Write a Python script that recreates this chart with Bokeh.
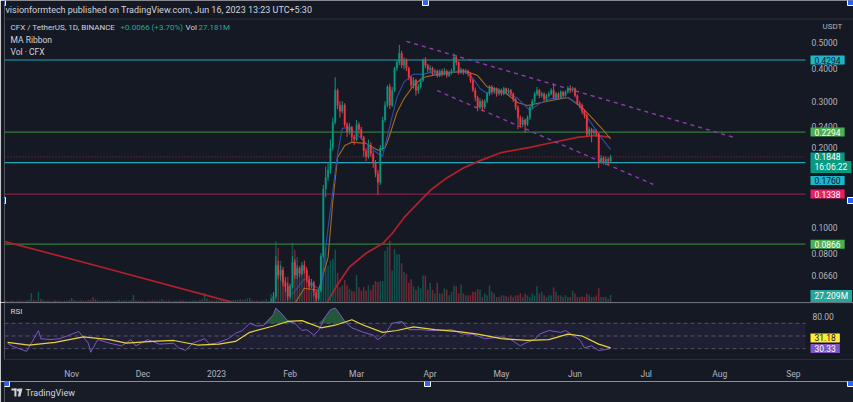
import numpy as np
import pandas as pd
from bokeh.plotting import figure
from bokeh.layouts import column
from bokeh.models import (ColumnDataSource, Range1d, FixedTicker, Label, BoxAnnotation,
                          CustomJSTickFormatter, LinearScale)
from bokeh.core.properties import value
from bokeh.embed import file_html
from bokeh.resources import INLINE

# ---------------- data ----------------
# daily volume (millions) before the visible candles, Oct 2 2022 .. Jan 14 2023
pre_start = "2022-10-02"
pre_volume = [6, 5, 7, 5, 6, 8, 5, 6, 7, 6,
              5, 8, 9, 35, 10, 7, 39, 12, 8, 6,
              7, 5, 6, 8, 7, 6, 5, 7, 6, 8,
              16, 9, 7, 6, 8, 7, 6, 9, 10, 20,
              12, 8, 6, 7, 6, 8, 7, 5, 6, 7,
              9, 6, 7, 8, 6, 9, 27, 8, 6, 7,
              6, 5, 7, 6, 8, 7, 6, 7, 12, 7,
              6, 8, 5, 6, 7, 6, 8, 7, 6, 5,
              6, 7, 8, 6, 9, 12, 35, 15, 8, 7,
              6, 9, 7, 8, 10, 8, 9, 7, 8, 10,
              9, 12, 10, 11, 15]
pre_volume_up = [0, 1, 0, 1, 1, 0, 0, 1, 0, 1,
                 1, 0, 1, 1, 0, 0, 1, 0, 1, 0,
                 0, 1, 1, 0, 1, 0, 0, 1, 1, 0,
                 1, 0, 1, 0, 0, 1, 1, 0, 1, 0,
                 0, 1, 0, 1, 1, 0, 1, 0, 0, 1,
                 1, 0, 1, 1, 0, 1, 1, 0, 1, 0,
                 0, 1, 1, 0, 0, 1, 0, 1, 1, 0,
                 1, 0, 1, 0, 1, 1, 0, 0, 1, 0,
                 0, 1, 1, 0, 1, 0, 1, 1, 0, 0,
                 1, 0, 1, 1, 0, 1, 0, 1, 1, 0,
                 1, 0, 1, 1, 1]

# daily candles CFX/USDT, Jan 15 2023 .. Jun 16 2023
candle_start = "2023-01-15"
first_open = 0.036
closes = [0.040, 0.039, 0.042, 0.041, 0.045, 0.047, 0.048, 0.050, 0.049, 0.052,
          0.055, 0.072, 0.066, 0.069, 0.062, 0.060, 0.055, 0.060, 0.074, 0.066,
          0.070, 0.067, 0.072, 0.069, 0.064, 0.060, 0.062, 0.057, 0.054, 0.058,
          0.078, 0.140, 0.155, 0.165, 0.200, 0.250, 0.330, 0.290, 0.275, 0.290,
          0.245, 0.230, 0.240, 0.220, 0.215, 0.245, 0.235, 0.220, 0.195, 0.185,
          0.205, 0.190, 0.175, 0.160, 0.148, 0.200, 0.255, 0.290, 0.340, 0.290,
          0.330, 0.400, 0.420, 0.455, 0.410, 0.430, 0.400, 0.370, 0.345, 0.360,
          0.330, 0.340, 0.360, 0.430, 0.410, 0.395, 0.400, 0.385, 0.390, 0.375,
          0.390, 0.380, 0.390, 0.375, 0.385, 0.390, 0.440, 0.420, 0.385, 0.395,
          0.385, 0.390, 0.380, 0.360, 0.330, 0.310, 0.285, 0.300, 0.285, 0.300,
          0.320, 0.340, 0.325, 0.335, 0.320, 0.330, 0.320, 0.335, 0.325, 0.330,
          0.320, 0.305, 0.285, 0.260, 0.245, 0.255, 0.245, 0.260, 0.285, 0.300,
          0.320, 0.330, 0.315, 0.320, 0.305, 0.315, 0.320, 0.330, 0.310, 0.320,
          0.310, 0.325, 0.315, 0.325, 0.335, 0.330, 0.335, 0.315, 0.295, 0.290,
          0.275, 0.265, 0.225, 0.235, 0.228, 0.232, 0.226, 0.178, 0.183, 0.176,
          0.181, 0.1782, 0.1848]
highs = [0.041, 0.042, 0.043, 0.044, 0.046, 0.048, 0.050, 0.052, 0.051, 0.054,
         0.057, 0.078, 0.075, 0.072, 0.071, 0.065, 0.062, 0.061, 0.078, 0.076,
         0.072, 0.071, 0.074, 0.075, 0.071, 0.066, 0.064, 0.063, 0.058, 0.059,
         0.080, 0.145, 0.170, 0.175, 0.215, 0.260, 0.370, 0.335, 0.300, 0.300,
         0.295, 0.250, 0.248, 0.242, 0.225, 0.255, 0.250, 0.240, 0.222, 0.200,
         0.215, 0.210, 0.195, 0.180, 0.165, 0.205, 0.262, 0.300, 0.345, 0.350,
         0.340, 0.405, 0.430, 0.490, 0.465, 0.440, 0.435, 0.405, 0.375, 0.370,
         0.365, 0.350, 0.365, 0.435, 0.440, 0.415, 0.410, 0.405, 0.398, 0.395,
         0.395, 0.398, 0.400, 0.395, 0.392, 0.398, 0.455, 0.448, 0.425, 0.402,
         0.398, 0.398, 0.395, 0.385, 0.365, 0.338, 0.315, 0.308, 0.305, 0.305,
         0.325, 0.345, 0.345, 0.340, 0.338, 0.336, 0.335, 0.340, 0.338, 0.336,
         0.334, 0.324, 0.308, 0.290, 0.265, 0.262, 0.258, 0.265, 0.290, 0.306,
         0.325, 0.340, 0.334, 0.326, 0.324, 0.320, 0.326, 0.336, 0.350, 0.325,
         0.324, 0.330, 0.328, 0.330, 0.342, 0.345, 0.340, 0.338, 0.318, 0.300,
         0.294, 0.280, 0.270, 0.240, 0.238, 0.236, 0.235, 0.228, 0.188, 0.186,
         0.186, 0.184, 0.188]
lows = [0.035, 0.038, 0.038, 0.040, 0.040, 0.044, 0.046, 0.047, 0.048, 0.048,
        0.051, 0.054, 0.064, 0.063, 0.060, 0.057, 0.053, 0.054, 0.059, 0.064,
        0.064, 0.065, 0.066, 0.067, 0.062, 0.058, 0.059, 0.055, 0.052, 0.053,
        0.057, 0.077, 0.130, 0.150, 0.160, 0.195, 0.245, 0.280, 0.260, 0.270,
        0.240, 0.220, 0.225, 0.210, 0.205, 0.212, 0.225, 0.215, 0.185, 0.178,
        0.182, 0.185, 0.168, 0.155, 0.133, 0.145, 0.195, 0.250, 0.285, 0.280,
        0.285, 0.325, 0.390, 0.410, 0.400, 0.395, 0.390, 0.360, 0.335, 0.335,
        0.315, 0.320, 0.335, 0.355, 0.400, 0.385, 0.385, 0.375, 0.378, 0.368,
        0.370, 0.372, 0.375, 0.368, 0.370, 0.378, 0.385, 0.410, 0.378, 0.380,
        0.378, 0.380, 0.372, 0.352, 0.325, 0.300, 0.275, 0.280, 0.275, 0.280,
        0.295, 0.315, 0.318, 0.320, 0.312, 0.315, 0.315, 0.316, 0.320, 0.320,
        0.315, 0.298, 0.278, 0.235, 0.240, 0.240, 0.228, 0.242, 0.255, 0.280,
        0.295, 0.315, 0.308, 0.310, 0.300, 0.300, 0.310, 0.316, 0.305, 0.305,
        0.305, 0.306, 0.310, 0.312, 0.320, 0.322, 0.325, 0.310, 0.290, 0.282,
        0.268, 0.258, 0.220, 0.222, 0.210, 0.224, 0.220, 0.168, 0.175, 0.173,
        0.172, 0.172, 0.175]
volumes = [17, 8, 6, 7, 6, 8, 7, 12, 6, 30,
           36, 222, 199, 152, 121, 82, 94, 70, 218, 191,
           166, 134, 108, 127, 121, 82, 43, 36, 23, 36,
           150, 220, 199, 134, 153, 160, 192, 108, 56, 62,
           82, 62, 49, 43, 40, 101, 56, 43, 56, 43,
           62, 45, 65, 78, 75, 78, 78, 188, 202, 225,
           117, 195, 176, 176, 143, 111, 104, 72, 85, 59,
           46, 59, 52, 98, 98, 46, 72, 46, 33, 72,
           33, 33, 52, 46, 26, 39, 62, 59, 33, 65,
           33, 26, 26, 26, 39, 39, 49, 46, 20, 33,
           26, 62, 39, 33, 20, 20, 26, 26, 23, 20,
           26, 20, 26, 26, 33, 20, 33, 26, 20, 33,
           26, 59, 33, 39, 26, 20, 26, 26, 55, 39,
           26, 26, 20, 26, 20, 20, 43, 33, 20, 20,
           22, 20, 33, 26, 20, 20, 26, 52, 20, 20,
           20, 13, 27.209]

# MA Ribbon (fast = blue, slow = orange) and the 200-day MA (red)
ma_fast_dates = ["2023-02-02", "2023-02-07", "2023-02-14", "2023-02-17", "2023-02-21", "2023-02-23",
                 "2023-02-26", "2023-03-01", "2023-03-05", "2023-03-10", "2023-03-12", "2023-03-13",
                 "2023-03-18", "2023-03-21", "2023-03-25", "2023-03-29", "2023-04-01", "2023-04-04",
                 "2023-04-10", "2023-04-14", "2023-04-17", "2023-04-19", "2023-04-22", "2023-04-25",
                 "2023-04-28", "2023-05-03", "2023-05-08", "2023-05-13", "2023-05-17", "2023-05-22",
                 "2023-05-29", "2023-06-02", "2023-06-05", "2023-06-08", "2023-06-12", "2023-06-16"]
ma_fast = [0.056, 0.064, 0.058, 0.100, 0.190, 0.237,
           0.239, 0.226, 0.208, 0.190, 0.186, 0.204,
           0.310, 0.355, 0.380, 0.379, 0.385, 0.375,
           0.385, 0.392, 0.382, 0.366, 0.335, 0.321,
           0.335, 0.323, 0.307, 0.277, 0.294, 0.307,
           0.310, 0.294, 0.270, 0.247, 0.219, 0.197]
ma_slow_dates = ["2023-02-02", "2023-02-07", "2023-02-13", "2023-02-17", "2023-02-19", "2023-02-21",
                 "2023-02-24", "2023-02-27", "2023-03-05", "2023-03-10", "2023-03-13", "2023-03-14",
                 "2023-03-18", "2023-03-21", "2023-03-25", "2023-03-29", "2023-04-04", "2023-04-10",
                 "2023-04-16", "2023-04-21", "2023-04-25", "2023-04-28", "2023-05-03", "2023-05-08",
                 "2023-05-12", "2023-05-22", "2023-05-29", "2023-06-04", "2023-06-08", "2023-06-13",
                 "2023-06-16"]
ma_slow = [0.050, 0.059, 0.058, 0.077, 0.126, 0.184,
           0.204, 0.210, 0.208, 0.196, 0.200, 0.210,
           0.272, 0.307, 0.344, 0.369, 0.379, 0.385,
           0.389, 0.375, 0.340, 0.335, 0.321, 0.296,
           0.289, 0.302, 0.310, 0.284, 0.261, 0.233,
           0.216]
ma200_dates = ["2022-10-03", "2022-11-15", "2023-01-05", "2023-01-25", "2023-02-10", "2023-02-16",
               "2023-02-21", "2023-02-26", "2023-03-05", "2023-03-12", "2023-03-16", "2023-03-21",
               "2023-03-25", "2023-04-01", "2023-04-08", "2023-04-15", "2023-04-22", "2023-05-01",
               "2023-05-13", "2023-05-23", "2023-06-02", "2023-06-10", "2023-06-16"]
ma200 = [0.089, 0.0704, 0.053, 0.047, 0.046, 0.051,
         0.061, 0.071, 0.080, 0.087, 0.095, 0.109,
         0.119, 0.138, 0.154, 0.168, 0.179, 0.192,
         0.201, 0.210, 0.219, 0.223, 0.219]

# RSI (purple) and its moving average (yellow)
rsi_dates = ["2022-10-05", "2022-10-07", "2022-10-13", "2022-10-15", "2022-10-18", "2022-10-19",
             "2022-10-23", "2022-10-27", "2022-11-01", "2022-11-04", "2022-11-08", "2022-11-09",
             "2022-11-12", "2022-11-17", "2022-11-22", "2022-11-26", "2022-11-28", "2022-12-03",
             "2022-12-08", "2022-12-14", "2022-12-16", "2022-12-19", "2022-12-22", "2022-12-27",
             "2022-12-29", "2023-01-01", "2023-01-06", "2023-01-09", "2023-01-12", "2023-01-15",
             "2023-01-18", "2023-01-21", "2023-01-25", "2023-01-26", "2023-01-28", "2023-01-31",
             "2023-02-03", "2023-02-06", "2023-02-08", "2023-02-11", "2023-02-13", "2023-02-16",
             "2023-02-18", "2023-02-20", "2023-02-22", "2023-02-24", "2023-02-27", "2023-03-01",
             "2023-03-04", "2023-03-08", "2023-03-10", "2023-03-13", "2023-03-16", "2023-03-20",
             "2023-03-23", "2023-03-28", "2023-04-01", "2023-04-05", "2023-04-10", "2023-04-15",
             "2023-04-19", "2023-04-24", "2023-05-01", "2023-05-05", "2023-05-09", "2023-05-11",
             "2023-05-15", "2023-05-17", "2023-05-21", "2023-05-26", "2023-05-28", "2023-05-31",
             "2023-06-03", "2023-06-05", "2023-06-08", "2023-06-11", "2023-06-14", "2023-06-16"]
rsi = [38.6, 34.0, 25.7, 38.6, 58.6, 45.7,
       44.3, 45.7, 52.9, 57.0, 38.6, 24.3,
       44.3, 38.6, 34.3, 44.3, 34.3, 44.3,
       37.1, 38.6, 31.4, 27.1, 38.6, 45.7,
       37.1, 38.6, 45.7, 54.3, 58.6, 70.0,
       65.7, 67.0, 84.0, 94.0, 87.0, 74.0,
       70.0, 58.6, 60.0, 51.4, 58.6, 81.4,
       91.4, 94.3, 84.3, 72.9, 62.9, 60.0,
       55.7, 51.4, 44.3, 52.9, 70.0, 72.9,
       60.0, 60.0, 58.6, 58.6, 60.0, 52.9,
       52.9, 45.7, 48.6, 44.3, 34.3, 38.6,
       44.3, 52.9, 58.6, 55.7, 58.6, 51.4,
       44.3, 31.4, 34.3, 27.1, 28.6, 30.33]
rsi_ma_dates = ["2022-10-05", "2022-10-14", "2022-10-25", "2022-11-06", "2022-11-17", "2022-11-24",
                "2022-12-05", "2022-12-14", "2022-12-24", "2023-01-02", "2023-01-09", "2023-01-15",
                "2023-01-25", "2023-01-31", "2023-02-06", "2023-02-14", "2023-02-20", "2023-02-27",
                "2023-03-04", "2023-03-12", "2023-03-18", "2023-03-25", "2023-04-03", "2023-04-13",
                "2023-04-21", "2023-05-01", "2023-05-12", "2023-05-21", "2023-05-29", "2023-06-04",
                "2023-06-11", "2023-06-16"]
rsi_ma = [40.0, 35.7, 40.0, 48.6, 44.3, 38.6,
          41.4, 42.9, 35.7, 37.1, 41.4, 55.7,
          65.7, 72.9, 74.3, 62.9, 67.0, 75.7,
          67.0, 55.7, 58.6, 64.3, 60.0, 57.0,
          52.9, 45.7, 42.9, 44.3, 52.9, 50.0,
          37.1, 31.18]

# horizontal levels and the descending channel drawn on the chart
level_prices = [0.4294, 0.2294, 0.1760, 0.1338, 0.0866]
level_colors = ["#1fa7b8", "#2f7d3a", "#1fa7b8", "#8a1d4a", "#2f7d3a"]
channel_starts = ["2023-03-22", "2023-04-04"]
channel_start_prices = [0.505, 0.329]
channel_ends = ["2023-08-07", "2023-07-04"]
channel_end_prices = [0.219, 0.1455]
last_price = 0.1848
price_ticks = [0.066, 0.08, 0.1, 0.2, 0.24, 0.3, 0.4, 0.5]
rsi_ticks = [80]
month_ticks = ["2022-11-01", "2022-12-01", "2023-01-01", "2023-02-01", "2023-03-01", "2023-04-01",
               "2023-05-01", "2023-06-01", "2023-07-01", "2023-08-01", "2023-09-01"]

# ---------------- styling / layout constants ----------------
BG = "#151924"
TXT = "#b2b5be"
LIGHT = "#d1d4dc"
FONT = "Roboto"
UP = "#089981"
DN = "#f23645"
DAYMS = 86400000.0
PX_PER_DAY = 2.374      # horizontal zoom of the time scale
JAN1_PX = 216           # where Jan 1 2023 sits horizontally


def to_ms(s):
    return (pd.Timestamp(s) - pd.Timestamp("1970-01-01")) / pd.Timedelta(milliseconds=1)


jan1 = to_ms("2023-01-01")


def px_x(px):
    """time value at a horizontal pixel of the page"""
    return jan1 + (px - JAN1_PX) / PX_PER_DAY * DAYMS


x_lo = px_x(4)
x_hi = px_x(805)      # right edge of the plotting area (price scale starts here)
x_end = px_x(853)
xr = Range1d(start=x_lo, end=x_end)

# candles
cdates = pd.date_range(candle_start, periods=len(closes), freq="D")
opens = [first_open] + closes[:-1]
c_up = [c >= o for o, c in zip(opens, closes)]
csrc = ColumnDataSource(dict(
    x=cdates, h=highs, l=lows,
    top=[max(o, c) for o, c in zip(opens, closes)],
    bot=[min(o, c) for o, c in zip(opens, closes)],
    col=[UP if u else DN for u in c_up]))

# volume
pdates = pd.date_range(pre_start, periods=len(pre_volume), freq="D")
vx = list(pdates) + list(cdates)
vv = list(pre_volume) + list(volumes)
vup = [bool(u) for u in pre_volume_up] + c_up
vsrc = ColumnDataSource(dict(x=vx, v=vv, col=[UP if u else DN for u in vup]))


def pad_value():
    for cand in (dict(left=4, right=4, top=1, bottom=1), 2):
        try:
            Label(x=0, y=0, text="t", padding=cand)
            return cand
        except Exception:
            continue
    return None


PAD = pad_value()


def tag(p, y, text, bg, fg, yoff=0, y_range_name="default"):
    kw = dict(x=px_x(806), y=y, x_units="data", y_units="data", x_offset=4, y_offset=yoff,
              text=text, text_font=FONT, text_font_size="8.5px", text_color=fg,
              text_align="left", text_baseline="middle",
              background_fill_color=bg, background_fill_alpha=1.0, y_range_name=y_range_name)
    if PAD is not None:
        kw["padding"] = PAD
    p.add_layout(Label(**kw))


def txt(p, text, xpx, yv, yoff, color=TXT, size="9px", style="normal"):
    p.add_layout(Label(x=px_x(xpx), y=yv, x_units="data", y_units="data", x_offset=0, y_offset=yoff,
                       text=text, text_font=FONT, text_font_size=size, text_color=color,
                       text_font_style=style, text_align="left", text_baseline="middle"))


def frame_fig(height, y_range, **kw):
    p = figure(width=853, height=height, x_range=xr, y_range=y_range,
               x_axis_location=None, y_axis_location=None,
               output_backend="svg", toolbar_location=None,
               background_fill_color=BG, border_fill_color=BG,
               min_border_left=4, min_border_right=0, min_border_top=0, min_border_bottom=0, **kw)
    p.outline_line_color = None
    p.grid.grid_line_color = None
    return p


# ---------------- main pane ----------------
Y_TOP = 0.5 * np.exp(42 / 115)      # page top
Y_BOT = 0.5 * np.exp(-260 / 115)    # pane bottom (page y = 302)
p1 = frame_fig(302, Range1d(Y_BOT, Y_TOP), y_axis_type="log")

p1.extra_y_ranges = {"vol": Range1d(0, 1100)}
p1.extra_y_scales = {"vol": LinearScale()}
p1.vbar(x="x", top="v", bottom=0, width=0.65 * DAYMS, fill_color="col", line_color=None,
        fill_alpha=0.45, source=vsrc, y_range_name="vol")

# header separator
p1.segment(x0=[x_lo], y0=[0.5 * np.exp(23.5 / 115)], x1=[x_end], y1=[0.5 * np.exp(23.5 / 115)],
           line_color="#2a2e39", line_width=1)

p1.segment(x0=[x_lo] * len(level_prices), y0=level_prices, x1=[x_hi] * len(level_prices),
           y1=level_prices, line_color=level_colors, line_width=1.2)
p1.segment(x0=[x_lo], y0=[last_price], x1=[x_hi], y1=[last_price], line_color="#7a2e3a",
           line_width=1.2, line_dash="1 2")

p1.line(pd.to_datetime(ma200_dates), ma200, line_color="#b3202a", line_width=1.7)
p1.line(pd.to_datetime(ma_slow_dates), ma_slow, line_color="#a8681e", line_width=1.1)
p1.line(pd.to_datetime(ma_fast_dates), ma_fast, line_color="#2c4da8", line_width=1.1)

p1.segment(x0=pd.to_datetime(channel_starts), y0=channel_start_prices,
           x1=pd.to_datetime(channel_ends), y1=channel_end_prices,
           line_color="#8e3bb0", line_width=1.4, line_dash="4 4")

p1.segment(x0="x", y0="h", x1="x", y1="l", line_color="col", line_width=1, source=csrc)
p1.vbar(x="x", top="top", bottom="bot", width=0.65 * DAYMS, fill_color="col", line_color="col",
        line_width=0.3, source=csrc)

# price scale (right)
p1.text(x=[px_x(811)] * len(price_ticks), y=price_ticks, text=[f"{t:.4f}" for t in price_ticks],
        text_font=value(FONT), text_font_size="8.5px", text_color=TXT,
        text_align="left", text_baseline="middle")
txt(p1, "USDT", 822, Y_TOP, -26, color=TXT, size="8px")

# header and legend
txt(p1, "visionformtech published on TradingView.com, Jun 16, 2023 13:23 UTC+5:30", 5, Y_TOP, -9,
    color=LIGHT, size="9px")
txt(p1, "CFX / TetherUS, 1D, BINANCE", 10, Y_TOP, -27, color=LIGHT, size="8px")
txt(p1, "+0.0066 (+3.70%)", 120, Y_TOP, -27, color="#22ab94", size="8px")
txt(p1, "Vol", 185, Y_TOP, -27, color=LIGHT, size="8px")
txt(p1, "27.181M", 198, Y_TOP, -27, color="#22ab94", size="8px")
txt(p1, "MA Ribbon", 10, Y_TOP, -39, color=LIGHT, size="8.5px")
txt(p1, "Vol · CFX", 10, Y_TOP, -51, color=LIGHT, size="8.5px")

tag(p1, 0.4294, "0.4294", "#1fb5c9", "#131722")
tag(p1, 0.2294, "0.2294", "#4caf50", "#ffffff")
tag(p1, last_price, "16:06:22", "#089981", "#ffffff", yoff=-10)
tag(p1, last_price, "0.1848", "#089981", "#ffffff", yoff=0)
tag(p1, 0.1760, "0.1760", "#1fb5c9", "#131722", yoff=-18)
tag(p1, 0.1338, "0.1338", "#e91e63", "#ffffff")
tag(p1, 0.0866, "0.0866", "#4caf50", "#ffffff")
tag(p1, volumes[-1], "27.209M", "#26a69a", "#ffffff", yoff=-1, y_range_name="vol")

# selection handles of the snapshot
p1.scatter(x=[px_x(2), px_x(425), px_x(850), px_x(2), px_x(850)],
           y=[0.5 * np.exp(40 / 115)] * 3 + [0.5 * np.exp(-158 / 115)] * 2,
           marker="square", size=6, fill_color="#2962ff", line_color="#ffffff", line_width=1)

# ---------------- RSI pane ----------------
R_TOP = 70 + 23 / 0.7
R_BOT = 70 - 40 / 0.7
p2 = figure(width=853, height=79, x_range=xr, y_range=Range1d(R_BOT, R_TOP),
            y_axis_location=None, output_backend="svg", toolbar_location=None,
            background_fill_color=BG, border_fill_color=BG,
            min_border_left=4, min_border_right=0, min_border_top=0, min_border_bottom=16)
p2.outline_line_color = None
p2.grid.grid_line_color = None
p2.xaxis.ticker = FixedTicker(ticks=[to_ms(m) for m in month_ticks], minor_ticks=[])
p2.xaxis.formatter = CustomJSTickFormatter(code="""
const d = new Date(tick);
const names = ["Jan","Feb","Mar","Apr","May","Jun","Jul","Aug","Sep","Oct","Nov","Dec"];
const m = d.getUTCMonth();
return m === 0 ? String(d.getUTCFullYear()) : names[m];
""")
p2.xaxis.major_label_text_color = TXT
p2.xaxis.major_label_text_font = FONT
p2.xaxis.major_label_text_font_size = "8.5px"
p2.xaxis.axis_line_color = "#2a2e39"
p2.xaxis.major_tick_line_color = None
p2.xaxis.minor_tick_line_color = None
p2.xaxis.major_label_standoff = 3

p2.segment(x0=[x_lo], y0=[70 + 22.5 / 0.7], x1=[x_end], y1=[70 + 22.5 / 0.7],
           line_color="#2a2e39", line_width=1)
p2.add_layout(BoxAnnotation(left=x_lo, right=x_hi, bottom=30, top=70, fill_color="#7e57c2",
                            fill_alpha=0.1, line_color=None, level="underlay"))
p2.segment(x0=[x_lo] * 3, y0=[70, 50, 30], x1=[x_hi] * 3, y1=[70, 50, 30],
           line_color="#787b86", line_alpha=0.6, line_width=1, line_dash="4 3")

rd = pd.to_datetime(rsi_dates)
rv = np.array(rsi)
p2.varea(x=rd, y1=np.full(len(rv), 70.0), y2=np.maximum(rv, 70.0), fill_color="#2f8a4a",
         fill_alpha=0.55)
p2.line(rd, rv, line_color="#7e57c2", line_width=1)
p2.line(pd.to_datetime(rsi_ma_dates), rsi_ma, line_color="#e8d33a", line_width=1.2)

p2.text(x=[px_x(812)] * len(rsi_ticks), y=rsi_ticks, text=[f"{t:.2f}" for t in rsi_ticks],
        text_font=value(FONT), text_font_size="8.5px", text_color=TXT,
        text_align="left", text_baseline="middle")
txt(p2, "RSI", 10, R_TOP, -9, color=LIGHT, size="8px")
tag(p2, rsi_ma[-1], "31.18", "#ffeb3b", "#131722", yoff=10)
tag(p2, rsi[-1], "30.33", "#7e57c2", "#ffffff")

# ---------------- bottom bar ----------------
p3 = figure(width=853, height=21, x_range=Range1d(0, 853), y_range=Range1d(0, 21),
            x_axis_location=None, y_axis_location=None, output_backend="svg",
            toolbar_location=None, background_fill_color="#181c27", border_fill_color="#181c27",
            min_border=0)
p3.outline_line_color = None
p3.grid.grid_line_color = None
p3.quad(left=[7, 10], right=[12, 12], top=[14, 14], bottom=[12, 6], fill_color=LIGHT,
        line_color=None)
p3.scatter(x=[14], y=[12.5], size=3, fill_color=LIGHT, line_color=None)
p3.patch(x=[15, 18, 16, 13.5], y=[14, 14, 6, 6], fill_color=LIGHT, line_color=None)
p3.add_layout(Label(x=21, y=10, text="TradingView", text_font=FONT, text_font_size="9px",
                    text_color=LIGHT, text_align="left", text_baseline="middle"))
p3.scatter(x=[2, 425, 850], y=[19, 19, 19], marker="square", size=6, fill_color="#2962ff",
           line_color="#ffffff", line_width=1)

layout = column(p1, p2, p3, spacing=0)
open("out.html", "w").write(file_html(layout, INLINE))
